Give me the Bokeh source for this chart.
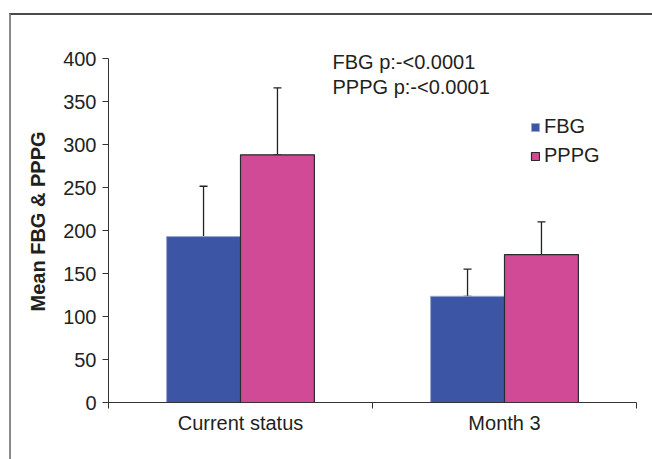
from bokeh.plotting import figure
from bokeh.models import (ColumnDataSource, Whisker, TeeHead, FixedTicker, Label,
                          Legend, LegendItem, Range1d)
from bokeh.embed import file_html
from bokeh.resources import INLINE

# ---- data ----
categories = ["Current status", "Month 3"]
series = ["FBG", "PPPG"]
fbg_mean = [193, 123.5]
pppg_mean = [288, 172]
fbg_sd = [58.5, 31.5]
pppg_sd = [78, 38]
y_ticks = [0, 50, 100, 150, 200, 250, 300, 350, 400]
p_notes = ["FBG p:-<0.0001", "PPPG p:-<0.0001"]

FONT = "Liberation Sans"
TXT = "#231f20"
BLUE = "#3d55a5"
MAGENTA = "#d04a96"

bar_w = 0.28
n = len(categories)
centers = [i + 0.5 for i in range(n)]
fbg_x = [c - bar_w / 2 for c in centers]
pppg_x = [c + bar_w / 2 for c in centers]

src_fbg = ColumnDataSource(dict(x=fbg_x, top=fbg_mean,
                                upper=[m + s for m, s in zip(fbg_mean, fbg_sd)]))
src_pppg = ColumnDataSource(dict(x=pppg_x, top=pppg_mean,
                                 upper=[m + s for m, s in zip(pppg_mean, pppg_sd)]))

p = figure(frame_width=528, frame_height=362,
           min_border_left=97, min_border_right=16, min_border_top=25, min_border_bottom=57,
           x_range=Range1d(0, n), y_range=Range1d(0, 421),
           output_backend="svg", toolbar_location=None)
p.styles = {"margin-left": "9px", "margin-top": "13px",
            "border-left": "2px solid #8a8a8a", "border-top": "2px solid #4a4a4a"}
p.outline_line_color = None
p.xgrid.visible = False
p.ygrid.visible = False
p.background_fill_color = "white"
p.border_fill_color = "white"

r_fbg = p.vbar(x="x", top="top", bottom=0, width=bar_w, source=src_fbg,
               fill_color=BLUE, line_color="#9aa6d6", line_width=1)
r_pppg = p.vbar(x="x", top="top", bottom=0, width=bar_w, source=src_pppg,
                fill_color=MAGENTA, line_color="#2a2a2a", line_width=1.2)

for src in (src_fbg, src_pppg):
    w = Whisker(source=src, base="x", lower="top", upper="upper", dimension="height",
                line_color="#222222", line_width=1.3,
                upper_head=TeeHead(size=8, line_color="#222222", line_width=1.3),
                lower_head=TeeHead(size=8, line_color="#222222", line_width=1.3))
    p.add_layout(w)

# axes
ya = p.yaxis[0]
ya.ticker = FixedTicker(ticks=y_ticks, minor_ticks=[])
ya.bounds = (0, 400)
ya.major_tick_out = 6
ya.major_tick_in = 0
ya.minor_tick_out = 0
ya.minor_tick_in = 0
ya.major_label_standoff = 6
ya.axis_line_color = "#333333"
ya.major_tick_line_color = "#333333"
ya.major_label_text_font = FONT
ya.major_label_text_font_size = "20px"
ya.major_label_text_color = TXT
ya.axis_label = "Mean FBG & PPPG"
ya.axis_label_text_font = FONT
ya.axis_label_text_font_style = "bold"
ya.axis_label_text_font_size = "20px"
ya.axis_label_text_color = TXT
ya.axis_label_standoff = 11

xa = p.xaxis[0]
xa.ticker = FixedTicker(ticks=centers, minor_ticks=list(range(n + 1)))
xa.major_label_overrides = {c: cat for c, cat in zip(centers, categories)}
xa.major_tick_out = 0
xa.major_tick_in = 0
xa.minor_tick_out = 6
xa.minor_tick_in = 0
xa.minor_tick_line_color = "#333333"
xa.axis_line_color = "#333333"
xa.major_label_standoff = 3
xa.major_label_text_font = FONT
xa.major_label_text_font_size = "20px"
xa.major_label_text_color = TXT

# p-value notes
for i, t in enumerate(p_notes):
    p.add_layout(Label(x=224, y=341 - 25 * i, x_units="screen", y_units="screen",
                       text=t, text_font=FONT, text_font_size="20px",
                       text_color=TXT, text_baseline="alphabetic"))

legend = Legend(items=[LegendItem(label=series[0], renderers=[r_fbg]),
                       LegendItem(label=series[1], renderers=[r_pppg])],
                location=(422, 235), glyph_width=10, glyph_height=10,
                label_standoff=4, spacing=6, padding=0, margin=0,
                border_line_color=None, background_fill_alpha=0,
                label_text_font=FONT, label_text_font_size="20px",
                label_text_color=TXT)
p.add_layout(legend)

open("out.html", "w").write(file_html(p, INLINE))
